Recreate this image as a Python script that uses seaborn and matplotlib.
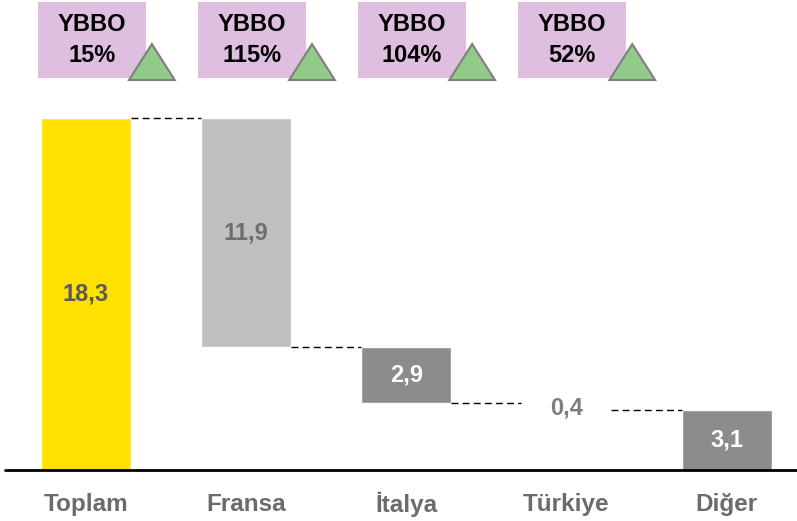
import matplotlib
matplotlib.use('Agg')
import matplotlib.pyplot as plt
from matplotlib.patches import Rectangle, Polygon
import pandas as pd
import seaborn as sns

# Waterfall data (values in chart)
categories = ['Toplam', 'Fransa', 'İtalya', 'Türkiye', 'Diğer']
values = [18.3, 11.9, 2.9, 0.4, 3.1]
value_labels = ['18,3', '11,9', '2,9', '0,4', '3,1']
ybbo_labels = ['15%', '115%', '104%', '52%']

bar_colors = ['#FFE100', '#BFBFBF', '#8C8C8C', '#FFFFFF', '#8C8C8C']
label_colors = ['#595959', '#6E6E6E', '#FFFFFF', '#7F7F7F', '#FFFFFF']

# Compute top / bottom of each floating bar.
tops, bottoms = [], []
level = values[0]
tops.append(values[0]); bottoms.append(0)
for v in values[1:-1]:
    tops.append(level)
    bottoms.append(level - v)
    level -= v
tops.append(values[-1]); bottoms.append(0)

df = pd.DataFrame({'category': categories, 'top': tops, 'bottom': bottoms})

sns.set_style('white')
plt.rcParams['font.family'] = ['Liberation Sans', 'DejaVu Sans']

fig = plt.figure(figsize=(7.97, 5.21), dpi=100)
ax = fig.add_axes([5 / 797, 51 / 521, 792 / 797, 470 / 521])

w = 0.5625
sns.barplot(data=df, x='category', y='top', hue='category', palette=bar_colors,
            width=w, saturation=1, legend=False, ax=ax, zorder=2)
# white base hides the lower part of floating bars
sns.barplot(data=df, x='category', y='bottom', color='white',
            width=w, saturation=1, ax=ax, zorder=3)

ax.set_xlim(-0.506, 4.44)
ax.set_ylim(0, 470 / 19.23)

# Connectors: from the end level of each bar to the next bar
for i in range(len(categories) - 1):
    y = tops[0] if i == 0 else bottoms[i]
    ax.plot([i + w / 2, i + 1 - w / 2], [y, y], color='black', lw=1,
            ls=(0, (5, 3)), zorder=4)

# Value labels
for i, (t, b) in enumerate(zip(tops, bottoms)):
    yy = (t + b) / 2 - (0.1 if i == 3 else 0)
    ax.text(i, yy, value_labels[i], ha='center', va='center',
            fontsize=17, fontweight='bold', color=label_colors[i], zorder=5)

# Category labels
for i, c in enumerate(categories):
    ax.text(i, -1.8, c, ha='center', va='center', fontsize=17.5,
            fontweight='bold', color='#6B6B6B', clip_on=False)

# Baseline
ax.axhline(0, color='black', lw=2, zorder=6, clip_on=False)

# YBBO boxes with up triangles
y0, y1 = 20.38, 24.34
for i, lab in enumerate(ybbo_labels):
    left = i - w / 2 - 0.02
    ax.add_patch(Rectangle((left, y0), 0.675, y1 - y0, facecolor='#DFBFDF',
                           edgecolor='none', zorder=5))
    ax.text(left + 0.3375, 23.19, 'YBBO', ha='center', va='center',
            fontsize=17, fontweight='bold', color='black', zorder=6)
    ax.text(left + 0.3375, 21.58, lab, ha='center', va='center',
            fontsize=17, fontweight='bold', color='black', zorder=6)
    tx = left + 0.57
    ax.add_patch(Polygon([(tx, 20.28), (tx + 0.285, 20.28), (tx + 0.1425, 22.15)],
                         closed=True, facecolor='#92CA8A', edgecolor='#7F7F7F',
                         lw=1.5, zorder=7))

ax.set_xticks([])
ax.set_yticks([])
ax.set_xlabel('')
ax.set_ylabel('')
sns.despine(ax=ax, left=True, bottom=True)

fig.savefig('out.png', dpi=100)
